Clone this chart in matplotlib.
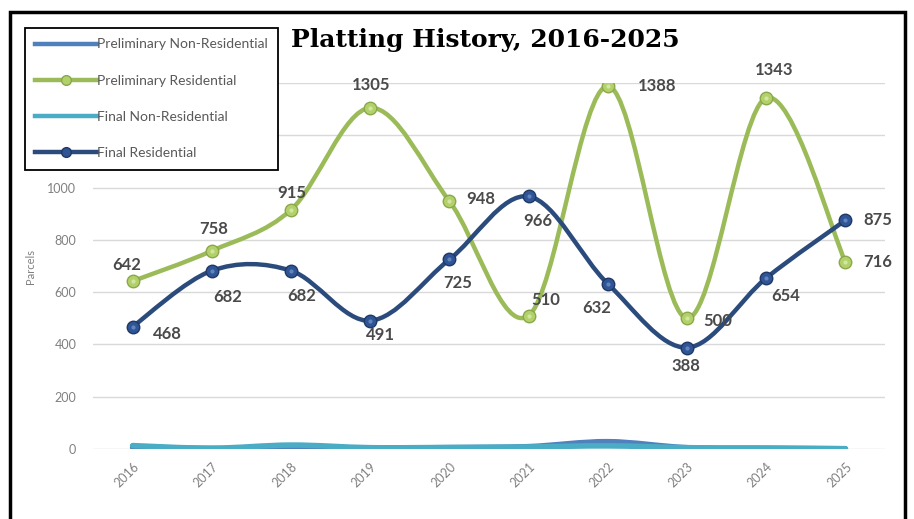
import matplotlib
matplotlib.use("Agg")
import matplotlib.pyplot as plt
from matplotlib.path import Path
from matplotlib.patches import PathPatch, Rectangle
from matplotlib.lines import Line2D

# Platting data, 2016-2025
years = ['2016', '2017', '2018', '2019', '2020', '2021', '2022', '2023', '2024', '2025']
prelim_nonres = [6, 2, 3, 4, 5, 9, 28, 5, 3, 1]
prelim_res = [642, 758, 915, 1305, 948, 510, 1388, 500, 1343, 716]
final_nonres = [13, 3, 15, 5, 6, 8, 12, 5, 3, 1]
final_res = [468, 682, 682, 491, 725, 966, 632, 388, 654, 875]

# label offsets in pixels (dx, dy) from each point
prelim_res_off = [(-6, 16), (2, 22), (1, 17), (1, 23), (31, 2), (17, 16), (49, 0), (31, -3), (8, 28), (32, 0)]
final_res_off = [(35, -7), (16, -26), (11, -25), (10, -14), (8, -24), (9, -25), (-11, -24), (-1, -18), (19, -18), (32, 0)]

GREEN = '#9bbb59'
GREEN_M = '#b3d16a'
NAVY = '#2a4b7c'
NAVY_M = '#2f5597'
BLUE = '#4f81bd'
CYAN = '#4bacc6'
GRAY = '#808080'
LABEL = '#4a4a4a'

plt.rcParams['font.family'] = ['Lato', 'DejaVu Sans']


def smooth(ax, xs, ys, color, lw, z):
    # cubic Bezier through the points (Catmull-Rom style control points)
    n = len(xs)
    verts = [(xs[0], ys[0])]
    codes = [Path.MOVETO]
    for i in range(n - 1):
        xp, yp = xs[max(i - 1, 0)], ys[max(i - 1, 0)]
        xn, yn = xs[min(i + 2, n - 1)], ys[min(i + 2, n - 1)]
        c1 = (xs[i] + (xs[i + 1] - xp) / 6, ys[i] + (ys[i + 1] - yp) / 6)
        c2 = (xs[i + 1] - (xn - xs[i]) / 6, ys[i + 1] - (yn - ys[i]) / 6)
        verts += [c1, c2, (xs[i + 1], ys[i + 1])]
        codes += [Path.CURVE4] * 3
    patch = PathPatch(Path(verts, codes), facecolor='none', edgecolor=color,
                      lw=lw, zorder=z, capstyle='round', joinstyle='round')
    ax.add_patch(patch)


fig = plt.figure(figsize=(9.14, 5.19), dpi=100)
ax = fig.add_axes([93 / 914, 70 / 519, 792 / 914, 366 / 519])

x = list(range(len(years)))

smooth(ax, x, prelim_nonres, BLUE, 4, 3)
smooth(ax, x, final_nonres, CYAN, 4, 3.1)
smooth(ax, x, prelim_res, GREEN, 3.2, 4)
smooth(ax, x, final_res, NAVY, 3.2, 5)

ax.plot(x, prelim_res, 'o', ms=9, mfc=GREEN_M, mec='#8aa84a', mew=1, zorder=6)
ax.plot(x, prelim_res, 'o', ms=3, mfc='#dcebb0', mec='none', zorder=6.1, alpha=0.8)
ax.plot(x, final_res, 'o', ms=9, mfc=NAVY_M, mec='#1f3864', mew=1, zorder=7)
ax.plot(x, final_res, 'o', ms=3, mfc='#6f8fc7', mec='none', zorder=7.1, alpha=0.8)

for xi, v, (dx, dy) in zip(x, prelim_res, prelim_res_off):
    ax.annotate(str(v), (xi, v), xytext=(dx, dy), textcoords='offset pixels',
                ha='center', va='center', fontsize=12, fontweight='bold',
                color=LABEL, zorder=8, annotation_clip=False)
for xi, v, (dx, dy) in zip(x, final_res, final_res_off):
    ax.annotate(str(v), (xi, v), xytext=(dx, dy), textcoords='offset pixels',
                ha='center', va='center', fontsize=12, fontweight='bold',
                color=LABEL, zorder=8, annotation_clip=False)

ax.set_xlim(-0.5, len(years) - 0.5)
ax.set_ylim(0, 1400)
ax.set_yticks(range(0, 1401, 200))
ax.set_xticks(x)
ax.set_xticklabels(years, rotation=45, ha='right', rotation_mode='anchor')
ax.tick_params(axis='both', length=0, colors=GRAY, labelsize=9)
ax.tick_params(axis='x', pad=8)
ax.tick_params(axis='y', pad=12)
ax.grid(axis='y', color='#d9d9d9', lw=1)
ax.set_axisbelow(True)
for s in ax.spines.values():
    s.set_visible(False)
ax.set_ylabel('Parcels', color=GRAY, fontsize=8, labelpad=8)

fig.text(485 / 914, 1 - 40 / 519, 'Platting History, 2016-2025', ha='center', va='center',
         fontsize=18, fontweight='bold', family='DejaVu Serif', color='black')

handles = [
    Line2D([], [], color=BLUE, lw=3.2),
    Line2D([], [], color=GREEN, lw=3.2, marker='o', ms=7, mfc=GREEN_M, mec='#8aa84a'),
    Line2D([], [], color=CYAN, lw=3.2),
    Line2D([], [], color=NAVY, lw=3.2, marker='o', ms=7, mfc=NAVY_M, mec='#1f3864'),
]
names = ['Preliminary Non-Residential', 'Preliminary Residential',
         'Final Non-Residential', 'Final Residential']
leg = fig.legend(handles, names, loc='upper left', bbox_to_anchor=(25 / 914, 1 - 28 / 519),
                 frameon=True, fancybox=False, framealpha=1, fontsize=10, labelspacing=1.75,
                 handlelength=4.4, handletextpad=0.0, borderpad=0.75, borderaxespad=0,
                 labelcolor='#595959')
leg.get_frame().set_edgecolor('black')
leg.get_frame().set_linewidth(1.3)
leg.set_zorder(20)

# outer frame
fig.patches.append(Rectangle((10 / 914, -0.02), 895 / 914, 1.02 - 12 / 519,
                             transform=fig.transFigure, fill=False, ec='black', lw=2.5))

fig.savefig('out.png', dpi=100)
